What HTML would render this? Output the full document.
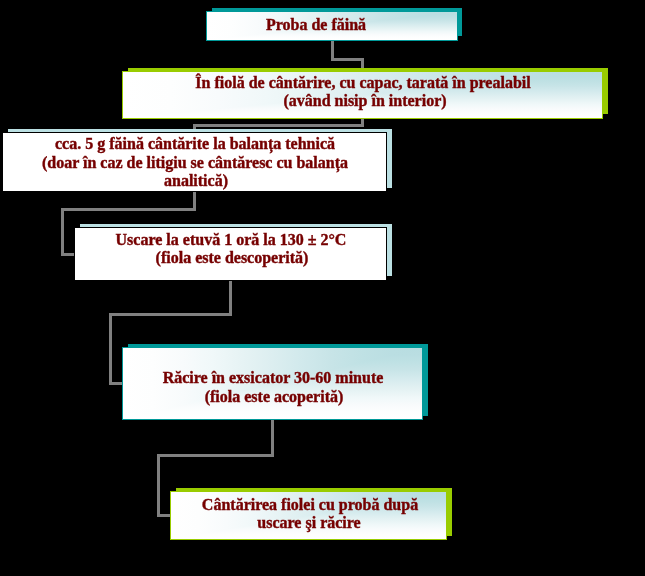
<!DOCTYPE html>
<html><head><meta charset="utf-8"><style>
html,body{margin:0;padding:0;background:#000;width:645px;height:576px;overflow:hidden}
body>div{position:absolute;box-sizing:content-box}
.gb{overflow:hidden;background:linear-gradient(to left,#b8dde1 0%,#badee2 10%,#bfe1e4 20%,#c7e4e7 30%,#d1e9ec 40%,#dceef0 50%,#e6f3f4 60%,#f0f8f9 70%,#f8fbfc 80%,#fdfefe 90%,#ffffff 100%),linear-gradient(to bottom,#b8dde1 0%,#badee2 10%,#bfe1e4 20%,#c7e4e7 30%,#d1e9ec 40%,#dceef0 50%,#e6f3f4 60%,#f0f8f9 70%,#f8fbfc 80%,#fdfefe 90%,#ffffff 100%);background-blend-mode:lighten}
.t{width:600px;text-align:center;font-family:"Liberation Serif",serif;font-weight:bold;font-size:16px;line-height:18px;color:#760000;white-space:nowrap;will-change:transform;-webkit-text-stroke:0.4px #760000}
</style></head><body>
<div style="left:331px;top:41px;width:3px;height:20px;background:#808080"></div>
<div style="left:331px;top:58px;width:33px;height:3px;background:#808080"></div>
<div style="left:361px;top:58px;width:3px;height:13px;background:#808080"></div>
<div style="left:361px;top:119px;width:3px;height:8px;background:#808080"></div>
<div style="left:193px;top:124px;width:171px;height:3px;background:#808080"></div>
<div style="left:193px;top:124px;width:3px;height:6px;background:#808080"></div>
<div style="left:193px;top:191px;width:3px;height:20px;background:#808080"></div>
<div style="left:61px;top:208px;width:135px;height:3px;background:#808080"></div>
<div style="left:61px;top:208px;width:3px;height:48px;background:#808080"></div>
<div style="left:61px;top:253px;width:14px;height:3px;background:#808080"></div>
<div style="left:229px;top:280px;width:3px;height:36px;background:#808080"></div>
<div style="left:109px;top:313px;width:123px;height:3px;background:#808080"></div>
<div style="left:109px;top:313px;width:3px;height:72px;background:#808080"></div>
<div style="left:109px;top:382px;width:13px;height:3px;background:#808080"></div>
<div style="left:271px;top:420px;width:3px;height:37px;background:#808080"></div>
<div style="left:157px;top:454px;width:117px;height:3px;background:#808080"></div>
<div style="left:157px;top:454px;width:3px;height:63px;background:#808080"></div>
<div style="left:157px;top:514px;width:13px;height:3px;background:#808080"></div>
<div style="left:212px;top:8px;width:250px;height:28px;background:#009999"></div>
<div class="gb" style="left:206px;top:11px;width:250px;height:28px;border:1px solid #009999"></div>
<div style="left:128px;top:68px;width:480px;height:46px;background:#99cc00"></div>
<div class="gb" style="left:122px;top:71px;width:479px;height:46px;border:1px solid #99cc00"></div>
<div style="left:8px;top:129px;width:384px;height:59px;background:#bbe0e3"></div>
<div style="left:2px;top:132px;width:385px;height:60px;background:#000"></div>
<div style="left:3px;top:133px;width:383px;height:58px;background:#fff"></div>
<div style="left:80px;top:224px;width:312px;height:52px;background:#bbe0e3"></div>
<div style="left:74px;top:227px;width:313px;height:54px;background:#000"></div>
<div style="left:75px;top:228px;width:311px;height:52px;background:#fff"></div>
<div style="left:128px;top:344px;width:300px;height:72px;background:#009999"></div>
<div class="gb" style="left:122px;top:347px;width:299px;height:71px;border:1px solid #009999"></div>
<div style="left:176px;top:488px;width:276px;height:48px;background:#99cc00"></div>
<div class="gb" style="left:170px;top:491px;width:275px;height:47px;border:1px solid #99cc00"></div>
<div class="t" style="left:16px;top:16px">Proba de făină</div>
<div class="t" style="left:62.5px;top:74px">În fiolă de cântărire, cu capac, tarată în prealabil</div>
<div class="t" style="left:64.5px;top:92px">(având nisip în interior)</div>
<div class="t" style="left:-105px;top:135px">cca. 5 g făină cântărite la balanța tehnică</div>
<div class="t" style="left:-105px;top:154px">(doar în caz de litigiu se cântăresc cu balanța</div>
<div class="t" style="left:-104.5px;top:172px">analitică)</div>
<div class="t" style="left:-69px;top:231px">Uscare la etuvă 1 oră la 130 ± 2°C</div>
<div class="t" style="left:-68.5px;top:249px">(fiola este descoperită)</div>
<div class="t" style="left:-27px;top:369px">Răcire în exsicator 30-60 minute</div>
<div class="t" style="left:-26px;top:388px">(fiola este acoperită)</div>
<div class="t" style="left:9.5px;top:496px">Cântărirea fiolei cu probă după</div>
<div class="t" style="left:9px;top:514px">uscare şi răcire</div>
</body></html>
